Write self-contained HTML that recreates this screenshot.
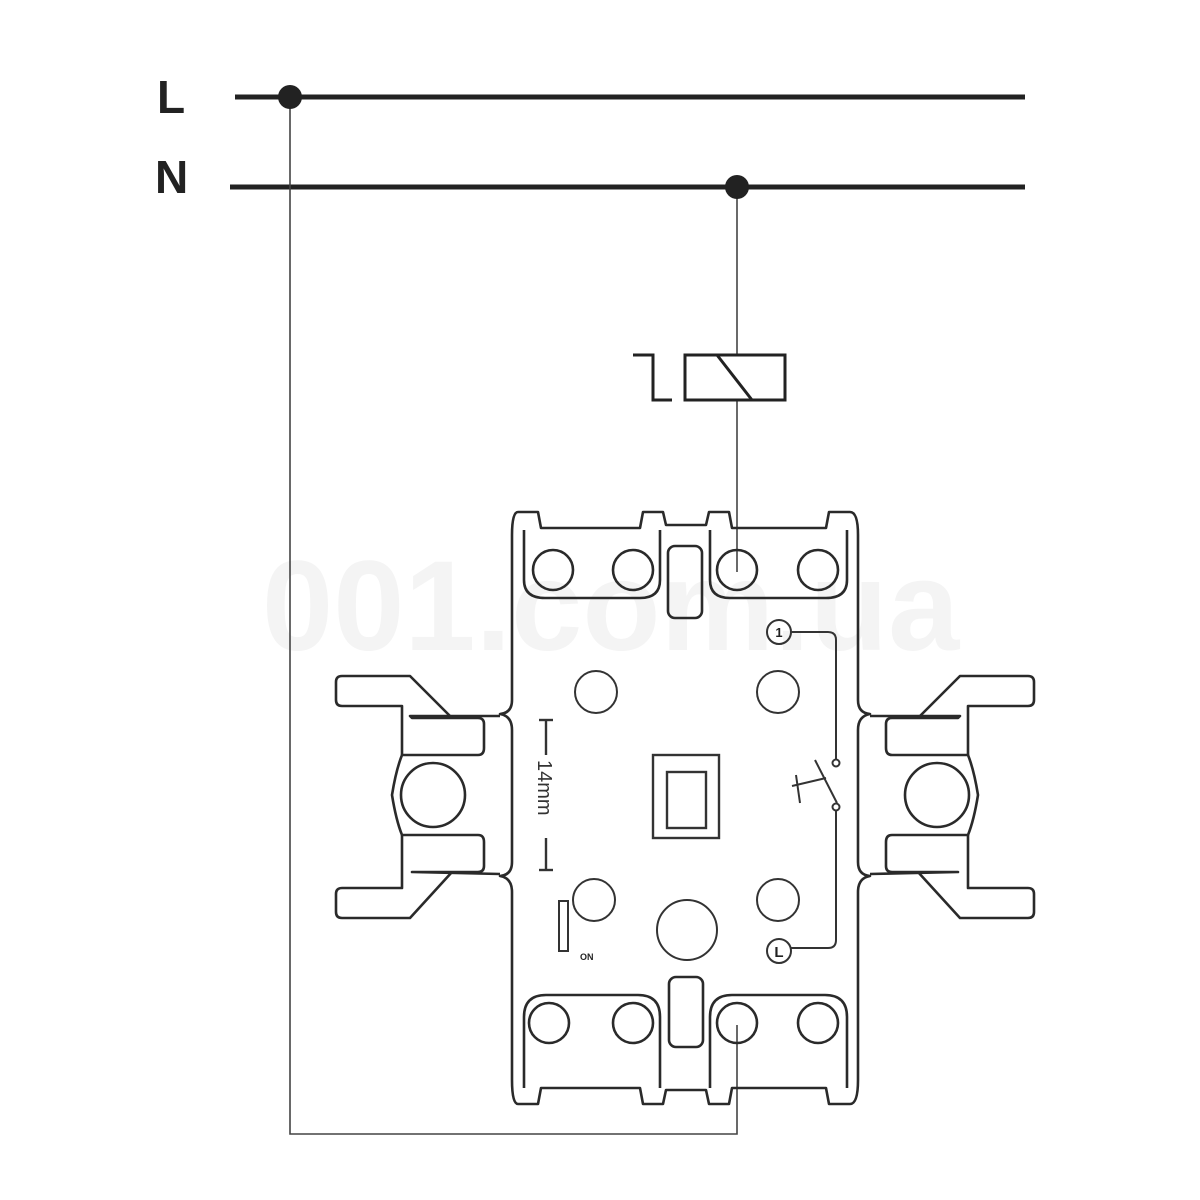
<!DOCTYPE html>
<html><head><meta charset="utf-8"><style>html,body{margin:0;padding:0;background:#fff}svg{display:block}</style></head>
<body>
<svg width="1200" height="1200" viewBox="0 0 1200 1200" xmlns="http://www.w3.org/2000/svg">
<rect width="1200" height="1200" fill="#fff"/>
<text x="262" y="650" font-family="Liberation Sans, sans-serif" font-size="128" font-weight="bold" fill="#f4f4f4">001.com.ua</text>
<g font-family="Liberation Sans, sans-serif" font-weight="bold" fill="#222">
<text x="157" y="113" font-size="46">L</text>
<text x="155" y="193" font-size="46">N</text>
</g>
<g stroke="#222" fill="none">
<line x1="235" y1="97" x2="1025" y2="97" stroke-width="5"/>
<line x1="230" y1="187" x2="1025" y2="187" stroke-width="5"/>
<polyline points="290,97 290,1134 737,1134 737,1025" stroke-width="1.6" stroke="#444"/>
<line x1="737" y1="187" x2="737" y2="355" stroke-width="1.6" stroke="#444"/>
<line x1="737" y1="400" x2="737" y2="572" stroke-width="1.6" stroke="#444"/>
<rect x="685" y="355" width="100" height="45" stroke-width="3"/>
<line x1="717" y1="355" x2="752" y2="400" stroke-width="3"/>
<polyline points="633,355 653,355 653,400 672,400" stroke-width="3"/>
</g>
<circle cx="290" cy="97" r="12" fill="#222"/>
<circle cx="737" cy="187" r="12" fill="#222"/>
<g stroke="#2a2a2a" fill="none" stroke-width="2.6" stroke-linejoin="round">
<path d="M518,512 L538,512 L541,528 L640,528 L643,512 L663,512 L666,525 L706,525 L709,512 L729,512 L732,528 L826,528 L829,512 L850,512 Q858,512 858,535 L858,700 Q858,713 870,714 Q858,716 858,730 L858,862 Q858,875 870,876 Q858,878 858,892 L858,1080 Q858,1104 850,1104 L829,1104 L826,1088 L732,1088 L729,1104 L709,1104 L706,1090 L666,1090 L663,1104 L643,1104 L640,1088 L541,1088 L538,1104 L518,1104 Q512,1104 512,1080 L512,892 Q512,878 500,876 Q512,875 512,862 L512,730 Q512,716 500,714 Q512,713 512,700 L512,535 Q512,512 518,512 Z"/>
<path d="M524,530 L524,580 Q524,598 545,598 L640,598 Q660,598 660,580 L660,530"/>
<path d="M710,530 L710,580 Q710,598 730,598 L826,598 Q847,598 847,580 L847,530"/>
<circle cx="553" cy="570" r="20"/><circle cx="633" cy="570" r="20"/>
<circle cx="737" cy="570" r="20"/><circle cx="818" cy="570" r="20"/>
<rect x="668" y="546" width="34" height="72" rx="7"/>
<path d="M524,1088 L524,1017 Q524,995 546,995 L638,995 Q660,995 660,1017 L660,1088"/>
<path d="M710,1088 L710,1017 Q710,995 732,995 L825,995 Q847,995 847,1017 L847,1088"/>
<circle cx="549" cy="1023" r="20"/><circle cx="633" cy="1023" r="20"/>
<circle cx="737" cy="1023" r="20"/><circle cx="818" cy="1023" r="20"/>
<rect x="669" y="977" width="34" height="70" rx="7"/>
<path d="M500,716 L410,716 L412,718 L478,718 Q484,718 484,724 L484,748 Q484,755 478,755 L402,755 Q396,770 392,795 Q396,820 402,835 L478,835 Q484,835 484,842 L484,866 Q484,872 478,872 L412,872 L500,874"/>
<path d="M402,755 L402,706 L342,706 Q336,706 336,700 L336,682 Q336,676 342,676 L410,676 L452,718"/>
<path d="M402,835 L402,888 L342,888 Q336,888 336,894 L336,912 Q336,918 342,918 L410,918 L452,872"/>
<circle cx="433" cy="795" r="32"/>
<path d="M870,716 L960,716 L958,718 L892,718 Q886,718 886,724 L886,748 Q886,755 892,755 L968,755 Q974,770 978,795 Q974,820 968,835 L892,835 Q886,835 886,842 L886,866 Q886,872 892,872 L958,872 L870,874"/>
<path d="M968,755 L968,706 L1028,706 Q1034,706 1034,700 L1034,682 Q1034,676 1028,676 L960,676 L918,718"/>
<path d="M968,835 L968,888 L1028,888 Q1034,888 1034,894 L1034,912 Q1034,918 1028,918 L960,918 L918,872"/>
<circle cx="937" cy="795" r="32"/>
</g>
<g stroke="#333" fill="none" stroke-width="2">
<circle cx="596" cy="692" r="21"/><circle cx="778" cy="692" r="21"/>
<circle cx="594" cy="900" r="21"/><circle cx="778" cy="900" r="21"/>
<circle cx="687" cy="930" r="30"/>
<rect x="653" y="755" width="66" height="83" stroke-width="2.4"/>
<rect x="667" y="772" width="39" height="56" stroke-width="2.4"/>
<line x1="546" y1="720" x2="546" y2="755" stroke-width="2.4"/><line x1="539" y1="720" x2="553" y2="720" stroke-width="2.4"/>
<line x1="546" y1="838" x2="546" y2="870" stroke-width="2.4"/><line x1="539" y1="870" x2="553" y2="870" stroke-width="2.4"/>
<rect x="559" y="901" width="9" height="50"/>
<circle cx="779" cy="632" r="12"/>
<circle cx="779" cy="951" r="12"/>
<path d="M791,632 L828,632 Q836,632 836,640 L836,759"/>
<circle cx="836" cy="763" r="3.5"/>
<circle cx="836" cy="807" r="3.5"/>
<path d="M836,811 L836,940 Q836,948 828,948 L791,948"/>
<line x1="815" y1="760" x2="837" y2="803"/>
<line x1="792" y1="786" x2="826" y2="778"/>
<line x1="796" y1="775" x2="800" y2="803"/>
</g>
<g font-family="Liberation Sans, sans-serif" font-weight="bold" fill="#222">
<text x="779" y="637" font-size="13" text-anchor="middle">1</text>
<text x="779" y="957" font-size="15" text-anchor="middle">L</text>
<text x="580" y="960" font-size="9">ON</text>
<text transform="translate(538,760) rotate(90)" font-size="20" font-weight="normal" fill="#333">14mm</text>
</g>
</svg>
</body></html>
